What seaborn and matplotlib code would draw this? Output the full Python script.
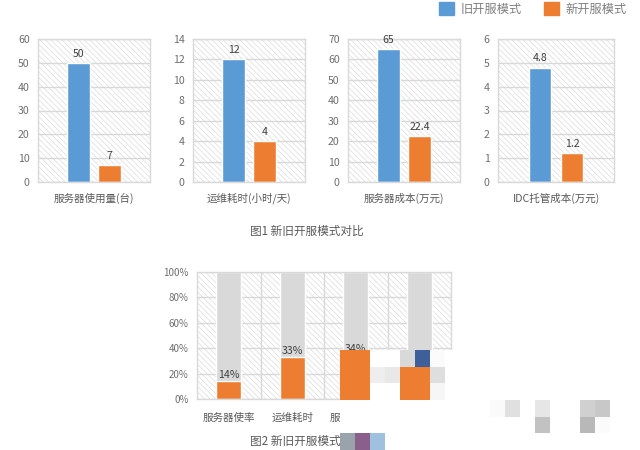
import pandas as pd
import seaborn as sns
import matplotlib.pyplot as plt
from matplotlib.patches import Patch, Rectangle

sns.set_theme(style="white")
plt.rcParams['font.family'] = ['Noto Sans CJK SC', 'DejaVu Sans']
plt.rcParams['hatch.linewidth'] = 0.5
plt.rcParams['hatch.color'] = '#dcdcdc'

modes = ['旧开服模式', '新开服模式']
mode_colors = ['#5b9bd5', '#ed7d31']

metric_names = ['服务器使用量(台)', '运维耗时(小时/天)', '服务器成本(万元)', 'IDC托管成本(万元)']
old_values = [50, 12, 65, 4.8]
new_values = [7, 4, 22.4, 1.2]
metric_ymax = [60, 14, 70, 6]
metric_ystep = [10, 2, 10, 1]

ratio_names = ['服务器使率', '运维耗时', '服务器成本', 'IDC托管成本']
ratio_values = [14, 33, 34, 26]
ratio_full = [100, 100, 100, 100]

W, H = 640, 450
fig = plt.figure(figsize=(6.4, 4.5), dpi=100)


def px_axes(x0, y0, x1, y1):
    return fig.add_axes([x0 / W, 1 - y1 / H, (x1 - x0) / W, (y1 - y0) / H])


def style_axes(ax):
    ax.patch.set_facecolor('white')
    ax.patch.set_hatch('\\\\\\\\\\\\')
    ax.patch.set_edgecolor('#dcdcdc')
    ax.set_axisbelow(True)
    ax.grid(axis='y', color='#d9d9d9', lw=1)
    for s in ax.spines.values():
        s.set_color('#d9d9d9')
        s.set_linewidth(1)
    ax.set_xlabel('')
    ax.set_ylabel('')
    ax.tick_params(axis='y', length=0, labelsize=7.6, labelcolor='#6e6e6e', pad=6)
    ax.tick_params(axis='x', length=0, labelsize=7.6, labelcolor='#595959', pad=14.4)
    for t in ax.get_xticklabels():
        t.set_va('baseline')


boxes = [(38, 39, 150, 182), (193, 39, 305, 182), (348, 39, 460, 182), (498, 39, 614, 182)]
for i, box in enumerate(boxes):
    ax = px_axes(*box)
    df = pd.DataFrame({'项目': [metric_names[i]] * 2, '模式': modes,
                       '值': [old_values[i], new_values[i]]})
    sns.barplot(data=df, x='项目', y='值', hue='模式', palette=mode_colors, saturation=1,
                width=0.554, gap=0.29, legend=False, ax=ax)
    style_axes(ax)
    ax.set_xlim(-0.5, 0.5)
    ax.set_ylim(0, metric_ymax[i])
    ax.set_yticks(range(0, metric_ymax[i] + 1, metric_ystep[i]))
    for c in ax.containers:
        ax.bar_label(c, fmt='%g', fontsize=7.6, color='#404040', padding=3)

fig.legend(handles=[Patch(color=c, label=m) for c, m in zip(mode_colors, modes)],
           loc='upper left', bbox_to_anchor=(428 / W, 1.019), ncol=2, frameon=False,
           fontsize=8.8, labelcolor='#7f7f7f', handlelength=1.2, handleheight=1.2,
           handletextpad=0.55, columnspacing=1.85)
fig.text(250 / W, 1 - 231 / H, '图1 新旧开服模式对比', fontsize=8.4, color='#595959',
         va='center')

# 下方百分比图
ax = px_axes(197, 272, 451, 399)
sns.barplot(x=ratio_names, y=ratio_full, color='#d9d9d9', saturation=1, width=0.39, ax=ax)
sns.barplot(x=ratio_names, y=ratio_values, color=mode_colors[1], saturation=1, width=0.39, ax=ax)
ax.set_xticks([0, 1, 2, 3], ratio_names)
style_axes(ax)
ax.set_xlim(-0.5, 3.5)
ax.set_ylim(0, 100)
ax.set_yticks(range(0, 101, 20), [f'{v}%' for v in range(0, 101, 20)])
ax.set_xticks([0.5, 1.5, 2.5], minor=True)
ax.grid(axis='x', which='minor', color='#d9d9d9', lw=1)
ax.tick_params(axis='x', which='minor', length=0)
ax.tick_params(axis='x', which='major', pad=16)
ax.tick_params(axis='y', labelsize=7)
ax.bar_label(ax.containers[-1], fmt='%g%%', fontsize=7.6, color='#404040', padding=1)
fig.text(250 / W, 1 - 441 / H, '图2 新旧开服模式对比', fontsize=8.4, color='#595959',
         va='center')


# 原图上的马赛克遮挡
def block(x0, y0, x1, y1, color):
    fig.add_artist(Rectangle((x0 / W, 1 - y1 / H), (x1 - x0) / W, (y1 - y0) / H,
                             transform=fig.transFigure, color=color, lw=0, zorder=10))


block(340, 350, 462, 433, 'white')
block(340, 350, 370, 400, mode_colors[1])
block(400, 350, 415, 367, '#d9d9d9')
block(415, 350, 430, 367, '#3f5f9b')
block(430, 350, 445, 367, '#fbfbfb')
block(370, 367, 385, 383, '#eeeeee')
block(385, 367, 400, 383, '#e8e8e8')
block(400, 367, 430, 400, mode_colors[1])
block(430, 367, 445, 383, '#dedede')
block(430, 383, 445, 400, '#f6f6f6')
block(340, 433, 390, 450, 'white')
block(340, 433, 355, 450, '#9aa3ab')
block(355, 433, 370, 450, '#8b5f8b')
block(370, 433, 385, 450, '#a0c0e0')
block(490, 400, 505, 417, '#fafafa')
block(505, 400, 520, 417, '#e0e0e0')
block(535, 400, 550, 417, '#e6e6e6')
block(580, 400, 595, 417, '#d0d0d0')
block(595, 400, 610, 417, '#c8c8c8')
block(535, 417, 550, 433, '#c2c2c2')
block(580, 417, 595, 433, '#b8b8b8')
block(595, 417, 610, 433, '#fbfbfb')

plt.savefig('out.png', dpi=100)
